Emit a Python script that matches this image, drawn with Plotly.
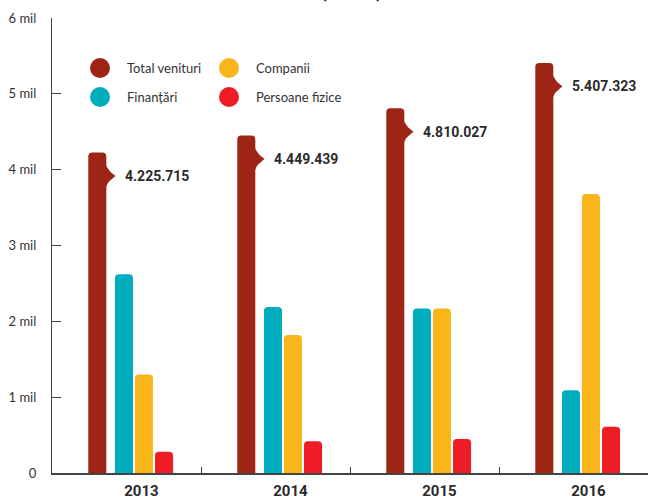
import plotly.graph_objects as go

years = ["2013", "2014", "2015", "2016"]
total_venituri = [4225715, 4449439, 4810027, 5407323]
finantari = [2620000, 2190000, 2170000, 1090000]
companii = [1300000, 1820000, 2170000, 3680000]
persoane_fizice = [280000, 420000, 450000, 610000]
total_labels = ["4.225.715", "4.449.439", "4.810.027", "5.407.323"]
y_tickvals = [0, 1000000, 2000000, 3000000, 4000000, 5000000, 6000000]
y_ticktext = ["0", "1 mil", "2 mil", "3 mil", "4 mil", "5 mil", "6 mil"]

C_TOTAL = "#9E2416"
C_FIN = "#00ADBE"
C_COMP = "#F9B51A"
C_PERS = "#EE1C25"

W, H = 648, 500
ML, MR, MT, MB = 52, 0, 18, 27
PW, PH = W - ML - MR, H - MT - MB


def px(x):
    return (x - ML) / PW


def py(y):
    return (H - MB - y) / PH


series = [
    ("Total venituri", total_venituri, C_TOTAL, -0.196),
    ("Finanțări", finantari, C_FIN, -0.017),
    ("Companii", companii, C_COMP, 0.117),
    ("Persoane fizice", persoane_fizice, C_PERS, 0.252),
]
BW = 0.121
idx = list(range(len(years)))

fig = go.Figure()
for name, vals, col, off in series:
    fig.add_trace(go.Bar(
        x=[i + off for i in idx], y=vals, width=BW, name=name,
        marker=dict(color=col, cornerradius=4, line=dict(width=0)),
        showlegend=False, hoverinfo="skip",
    ))

# callout notches on the total bars
nx, ny = [], []
toff = series[0][3]
for i, v in zip(idx, total_venituri):
    xe = i + toff + BW / 2 - 0.006
    xt = xe + 0.068
    y0, yt, y1 = v - 120000, v - 310000, v - 490000
    n = 12
    for k in range(n + 1):
        t = k / n
        nx.append(xe + (xt - xe) * t * t)
        ny.append(y0 + (yt - y0) * t)
    for k in range(n, -1, -1):
        t = k / n
        nx.append(xe + (xt - xe) * t * t)
        ny.append(y1 + (yt - y1) * t)
    nx.append(None)
    ny.append(None)
fig.add_trace(go.Scatter(x=nx, y=ny, fill="toself", fillcolor=C_TOTAL,
                         line=dict(width=0, color=C_TOTAL), mode="lines",
                         showlegend=False, hoverinfo="skip"))

annotations = []
for i, v, lab in zip(idx, total_venituri, total_labels):
    annotations.append(dict(
        x=i + toff + BW / 2 + 0.114, y=v - 310000, xref="x", yref="y",
        text=lab, showarrow=False, xanchor="left", yanchor="middle",
        font=dict(family="Roboto", size=14, color="#2b2b2b", weight="bold"),
    ))

# legend (circles + labels)
legend_items = [
    ("Total venituri", C_TOTAL, 100, 125, 68),
    ("Companii", C_COMP, 229, 254, 68),
    ("Finanțări", C_FIN, 100, 125, 97),
    ("Persoane fizice", C_PERS, 229, 254, 97),
]
shapes = []
for name, col, cx, tx, cy in legend_items:
    shapes.append(dict(type="circle", xref="paper", yref="paper",
                       xsizemode="pixel", ysizemode="pixel",
                       xanchor=px(cx), yanchor=py(cy),
                       x0=-10, x1=10, y0=-10, y1=10,
                       fillcolor=col, line=dict(width=0)))
    annotations.append(dict(x=px(tx), y=py(cy), xref="paper", yref="paper",
                            text=name, showarrow=False, xanchor="left",
                            yanchor="middle",
                            font=dict(family="Lato", size=13, color="#333333")))

# partially cut title at the top
annotations.append(dict(x=px(351), y=py(5), xref="paper", yref="paper",
                        text="(RON)", showarrow=False, xanchor="center",
                        yanchor="bottom",
                        font=dict(family="Lato", size=22, color="#333333",
                                  weight="bold")))

fig.update_layout(
    width=W, height=H,
    margin=dict(l=ML, r=MR, t=MT, b=MB, pad=0, autoexpand=False),
    paper_bgcolor="white", plot_bgcolor="white",
    barmode="overlay",
    shapes=shapes, annotations=annotations,
    showlegend=False,
    xaxis=dict(
        range=[-0.5, len(years) - 0.5],
        tickvals=[i + 0.1 for i in idx], ticktext=years,
        ticks="", showgrid=False, zeroline=False, automargin=False,
        showline=True, linecolor="#444444", linewidth=1.5,
        tickfont=dict(family="Roboto", size=15, color="#2b2b2b", weight="bold"),
        ticklabelstandoff=3,
        minor=dict(tickmode="array", tickvals=[i + 0.5 for i in idx[:-1]],
                   ticks="inside", ticklen=6, tickcolor="#444444", tickwidth=1.2),
        fixedrange=True,
    ),
    yaxis=dict(
        range=[0, 6000000],
        tickvals=y_tickvals, ticktext=y_ticktext,
        ticks="inside", ticklen=9, tickcolor="#444444", tickwidth=1.2,
        showgrid=False, zeroline=False, automargin=False,
        showline=True, linecolor="#444444", linewidth=1.2,
        tickfont=dict(family="Lato", size=13, color="#333333"),
        ticklabelstandoff=12,
        fixedrange=True,
    ),
)

fig.write_html(
    "out.html",
    config={"displayModeBar": False},
    post_script="document.body.style.margin='0';document.body.style.overflow='hidden';",
)
